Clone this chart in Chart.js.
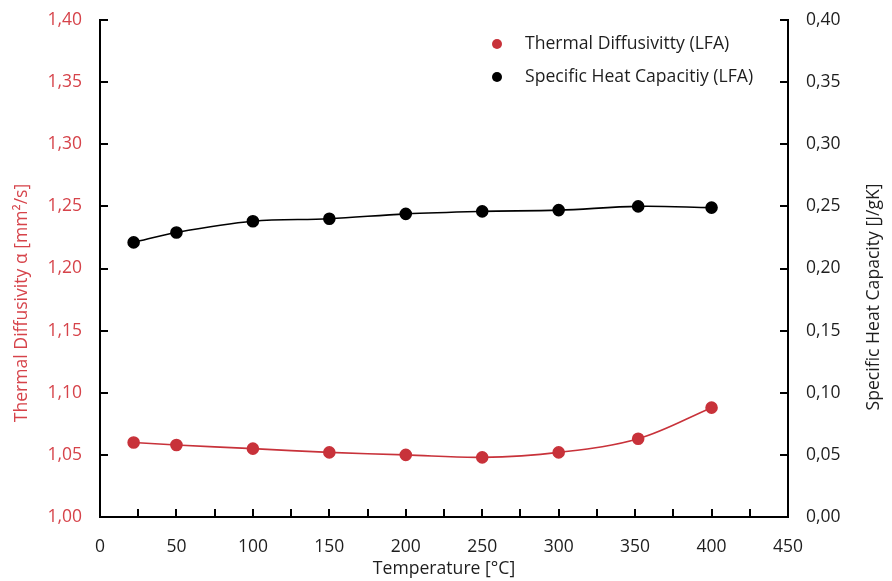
<!DOCTYPE html>
<html>
<head>
<meta charset="utf-8">
<script src="https://cdn.jsdelivr.net/npm/chart.js@4"></script>
<style>
  html, body { margin: 0; padding: 0; background: #fff; }
  #wrap { width: 892px; height: 581px; }
</style>
</head>
<body>
<div id="wrap"><canvas id="myChart" width="892" height="581"></canvas></div>
<script>
// values
const temps = [22, 50, 100, 150, 200, 250, 300, 352, 400];
const diffusivity = [1.060, 1.058, 1.055, 1.052, 1.050, 1.048, 1.052, 1.063, 1.088];
const heatCapacity = [0.221, 0.229, 0.238, 0.240, 0.244, 0.246, 0.247, 0.250, 0.249];
const legendLabels = ["Thermal Diffusivitty (LFA)", "Specific Heat Capacitiy (LFA)"];
const leftTitle = "Thermal Diffusivity α [mm²/s]";
const rightTitle = "Specific Heat Capacity [J/gK]";
const xTitle = "Temperature [°C]";

const RED = "#c8323a";
const RED_TEXT = "#d6434a";
const INK = "#1e1e1e";
const FONT = "'Open Sans', 'Noto Sans', sans-serif";

function comma(v) {
  return v.toFixed(2).replace(".", ",");
}

// ticks pointing into the plot, legend inside the plot, rotated y titles
const decorations = {
  id: "decorations",
  afterDraw(chart) {
    const ctx = chart.ctx;
    const area = chart.chartArea;
    const len = 8;
    ctx.save();
    ctx.strokeStyle = "#000";
    ctx.lineWidth = 2;
    ctx.beginPath();
    const x = chart.scales.x;
    x.ticks.forEach((t) => {
      const px = Math.round(x.getPixelForValue(t.value));
      if (t.value <= 0 || t.value >= 450) return;
      ctx.moveTo(px, area.bottom);
      ctx.lineTo(px, area.bottom - len);
    });
    const y = chart.scales.y;
    y.ticks.forEach((t) => {
      const py = Math.round(y.getPixelForValue(t.value));
      if (t.value <= 1.0001) return;
      ctx.moveTo(area.left, py);
      ctx.lineTo(area.left + len, py);
    });
    const y2 = chart.scales.y2;
    y2.ticks.forEach((t) => {
      const py = Math.round(y2.getPixelForValue(t.value));
      if (t.value <= 0.0001) return;
      ctx.moveTo(area.right, py);
      ctx.lineTo(area.right - len, py);
    });
    ctx.stroke();

    // legend
    const items = [
      { label: legendLabels[0], color: RED, y: 44 },
      { label: legendLabels[1], color: "#000", y: 77 },
    ];
    ctx.font = "17.6px " + FONT;
    ctx.textBaseline = "middle";
    ctx.textAlign = "left";
    items.forEach((it) => {
      ctx.fillStyle = it.color;
      ctx.beginPath();
      ctx.arc(497, it.y, 5, 0, Math.PI * 2);
      ctx.fill();
      ctx.fillStyle = INK;
      ctx.fillText(it.label, 525, it.y);
    });

    // axis titles, both reading bottom to top
    ctx.textAlign = "center";
    ctx.save();
    ctx.translate(22, 303);
    ctx.rotate(-Math.PI / 2);
    ctx.fillStyle = RED_TEXT;
    ctx.fillText(leftTitle, 0, 0);
    ctx.restore();
    ctx.save();
    ctx.translate(874, 297);
    ctx.rotate(-Math.PI / 2);
    ctx.fillStyle = INK;
    ctx.fillText(rightTitle, 0, 0);
    ctx.restore();
    ctx.restore();
  },
};

function fixY(width) {
  return (s) => {
    s.width = width;
    s.paddingTop = 0;
    s.paddingBottom = 0;
  };
}

const ctx = document.getElementById("myChart").getContext("2d");
new Chart(ctx, {
  type: "line",
  data: {
    datasets: [
      {
        label: legendLabels[0],
        data: temps.map((t, i) => ({ x: t, y: diffusivity[i] })),
        yAxisID: "y",
        borderColor: RED,
        backgroundColor: RED,
        borderWidth: 1.6,
        pointRadius: 5.5,
        pointHoverRadius: 5.5,
        tension: 0.35,
      },
      {
        label: legendLabels[1],
        data: temps.map((t, i) => ({ x: t, y: heatCapacity[i] })),
        yAxisID: "y2",
        borderColor: "#000",
        backgroundColor: "#000",
        borderWidth: 1.6,
        pointRadius: 5.5,
        pointHoverRadius: 5.5,
        tension: 0.35,
      },
    ],
  },
  options: {
    responsive: false,
    animation: false,
    events: [],
    layout: { padding: { top: 20, left: 0, right: 0, bottom: 0 } },
    plugins: {
      legend: { display: false },
      tooltip: { enabled: false },
    },
    scales: {
      x: {
        type: "linear",
        min: 0,
        max: 450,
        grid: { display: false, drawTicks: false },
        border: { display: true, color: "#000", width: 2 },
        ticks: {
          stepSize: 25,
          autoSkip: false,
          maxRotation: 0,
          padding: 20,
          color: INK,
          font: { family: FONT, size: 17.5 },
          callback: (v) => (v % 50 === 0 ? String(v) : ""),
        },
        title: {
          display: true,
          text: xTitle,
          color: INK,
          font: { family: FONT, size: 17.6 },
          padding: { top: 0, bottom: 1 },
        },
        afterFit: (s) => {
          s.height = 64;
          s.paddingLeft = 0;
          s.paddingRight = 0;
        },
      },
      y: {
        position: "left",
        min: 1.0,
        max: 1.4,
        grid: { display: false, drawTicks: false },
        border: { display: true, color: "#000", width: 2 },
        ticks: {
          stepSize: 0.05,
          padding: 18,
          color: RED_TEXT,
          font: { family: FONT, size: 17.5 },
          callback: (v) => comma(v),
        },
        title: { display: false },
        afterFit: fixY(100),
      },
      y2: {
        position: "right",
        min: 0,
        max: 0.4,
        grid: { display: false, drawTicks: false },
        border: { display: true, color: "#000", width: 2 },
        ticks: {
          stepSize: 0.05,
          padding: 18,
          color: INK,
          font: { family: FONT, size: 17.5 },
          callback: (v) => comma(v),
        },
        title: { display: false },
        afterFit: fixY(104),
      },
    },
  },
  plugins: [decorations],
});
</script>
</body>
</html>
